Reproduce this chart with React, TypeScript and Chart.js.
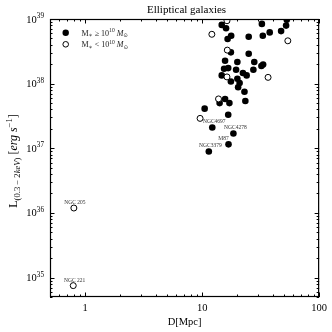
import React, { useEffect, useRef } from 'react';
import { Chart, registerables } from 'chart.js';

Chart.register(...registerables);

const SERIF = '"Liberation Serif", "DejaVu Serif", "Times New Roman", serif';

// Galaxies with M* >= 1e10 Msun (filled)
const filledD = [14.7, 16.0, 32.4, 52.2, 52.9, 17.7, 16.5, 25.0, 33.0, 37.8, 47.3, 17.6, 25.0, 15.7, 20.0, 27.9, 33.2, 32.1, 15.4, 16.7, 19.5, 27.4, 22.3, 24.0, 14.7, 17.6, 20.0, 20.9, 20.3, 23.0, 15.7, 14.1, 17.1, 23.4, 10.5, 16.7, 12.2, 18.5, 16.8, 11.4];
const filledL = [8.1e38, 7.2e38, 8.4e38, 7.9e38, 9.7e38, 5.5e38, 4.9e38, 5.3e38, 5.5e38, 6.2e38, 6.5e38, 3.05e38, 2.9e38, 2.26e38, 2.16e38, 2.16e38, 1.98e38, 1.87e38, 1.70e38, 1.74e38, 1.64e38, 1.64e38, 1.46e38, 1.34e38, 1.34e38, 1.08e38, 1.19e38, 1.02e38, 8.8e37, 7.5e37, 5.8e37, 5.0e37, 5.0e37, 5.4e37, 4.1e37, 3.3e37, 2.1e37, 1.69e37, 1.15e37, 8.9e36];

// Galaxies with M* < 1e10 Msun (open)
const openD = [16.3, 12.1, 54.0, 16.4, 16.3, 36.6, 13.8, 9.6, 0.80, 0.79];
const openL = [9.4e38, 5.8e38, 4.6e38, 3.3e38, 1.27e38, 1.25e38, 5.8e37, 2.9e37, 1.19e36, 7.5e34];

// Named galaxies
const labelNames = ['NGC4697', 'NGC4278', 'M87', 'NGC3379', 'NGC 205', 'NGC 221'];
const labelD = [12.2, 18.5, 16.8, 11.4, 0.80, 0.79];
const labelL = [2.1e37, 1.69e37, 1.15e37, 8.9e36, 1.19e36, 7.5e34];

const xTicks = [1, 10, 100];
const xTickLabels = ['1', '10', '100'];
const yTicks = [1e35, 1e36, 1e37, 1e38, 1e39];
const yTickExponents = ['35', '36', '37', '38', '39'];

const X_MIN = 0.5;
const X_MAX = 100;
const Y_MIN = 5e34;
const Y_MAX = 1e39;

const labelDx = [2, 2, -5, 1.5, 1, 1.5];

type Piece = { t: string; size: number; italic?: boolean; dy?: number };

function font(size: number, italic?: boolean) {
  return `${italic ? 'italic ' : ''}${size}px ${SERIF}`;
}

function drawPieces(ctx: CanvasRenderingContext2D, pieces: Piece[], x: number, y: number, align: 'left' | 'center' | 'right') {
  const widths = pieces.map((p) => {
    ctx.font = font(p.size, p.italic);
    return ctx.measureText(p.t).width;
  });
  const total = widths.reduce((a, b) => a + b, 0);
  let cx = align === 'left' ? x : align === 'center' ? x - total / 2 : x - total;
  ctx.textAlign = 'left';
  ctx.textBaseline = 'alphabetic';
  pieces.forEach((p, i) => {
    ctx.font = font(p.size, p.italic);
    ctx.fillText(p.t, cx, y + (p.dy || 0));
    cx += widths[i];
  });
}

const decoPlugin = {
  id: 'deco',
  afterDraw(chart: any) {
    const { ctx, chartArea: a, scales } = chart;
    const xs = scales.x;
    const ys = scales.y;
    ctx.save();
    ctx.fillStyle = '#000';
    ctx.strokeStyle = '#000';

    // frame
    ctx.lineWidth = 1.2;
    ctx.strokeRect(a.left + 0.5, a.top + 0.5, a.right - a.left - 1, a.bottom - a.top - 1);

    // ticks (inward, all sides)
    const tick = (x1: number, y1: number, x2: number, y2: number) => {
      ctx.beginPath();
      ctx.moveTo(x1, y1);
      ctx.lineTo(x2, y2);
      ctx.stroke();
    };
    const xMinor: number[] = [];
    [0.1, 1, 10].forEach((d) => {
      for (let m = 2; m <= 9; m++) {
        const v = m * d;
        if (v >= X_MIN && v <= X_MAX) xMinor.push(v);
      }
    });
    const yMinor: number[] = [];
    [1e34, 1e35, 1e36, 1e37, 1e38].forEach((d) => {
      for (let m = 2; m <= 9; m++) {
        const v = m * d;
        if (v >= Y_MIN && v <= Y_MAX) yMinor.push(v);
      }
    });
    ctx.lineWidth = 1;
    xTicks.forEach((v) => {
      const px = Math.round(xs.getPixelForValue(v)) + 0.5;
      tick(px, a.bottom, px, a.bottom - 4.5);
      tick(px, a.top, px, a.top + 4.5);
    });
    xMinor.forEach((v) => {
      const px = Math.round(xs.getPixelForValue(v)) + 0.5;
      tick(px, a.bottom, px, a.bottom - 2.5);
      tick(px, a.top, px, a.top + 2.5);
    });
    yTicks.forEach((v) => {
      const py = Math.round(ys.getPixelForValue(v)) + 0.5;
      tick(a.left, py, a.left + 4.5, py);
      tick(a.right, py, a.right - 4.5, py);
    });
    yMinor.forEach((v) => {
      const py = Math.round(ys.getPixelForValue(v)) + 0.5;
      tick(a.left, py, a.left + 2.5, py);
      tick(a.right, py, a.right - 2.5, py);
    });

    // y tick labels 10^n
    yTicks.forEach((v, i) => {
      const py = ys.getPixelForValue(v);
      drawPieces(ctx, [
        { t: '10', size: 10.5 },
        { t: yTickExponents[i], size: 7.2, dy: -4.4 },
      ], a.left - 6, py + 3.5, 'right');
    });

    // y axis title
    ctx.save();
    ctx.translate(13, (a.top + a.bottom) / 2 + 3);
    ctx.rotate(-Math.PI / 2);
    drawPieces(ctx, [
      { t: 'L', size: 12 },
      { t: '(0.3 \u2212 2', size: 8.6, dy: 2.8 },
      { t: 'keV', size: 8.6, italic: true, dy: 2.8 },
      { t: ')', size: 8.6, dy: 2.8 },
      { t: ' [', size: 12 },
      { t: 'erg s', size: 12, italic: true },
      { t: '\u22121', size: 8.6, dy: -5 },
      { t: ']', size: 12 },
    ], 0, 4, 'center');
    ctx.restore();

    // title
    ctx.font = font(11);
    ctx.textAlign = 'center';
    ctx.textBaseline = 'alphabetic';
    ctx.fillText('Elliptical galaxies', (a.left + a.right) / 2 + 2, 13);

    // legend
    const lx = 65.7;
    const ly1 = 32.7;
    const ly2 = 44.3;
    ctx.beginPath();
    ctx.arc(lx, ly1, 3.2, 0, Math.PI * 2);
    ctx.fill();
    ctx.beginPath();
    ctx.arc(lx, ly2, 2.8, 0, Math.PI * 2);
    ctx.fillStyle = '#fff';
    ctx.fill();
    ctx.lineWidth = 1;
    ctx.stroke();
    const legendText = (rel: string, y: number) => {
      drawPieces(ctx, [
        { t: 'M', size: 8 },
        { t: '\u2217', size: 6, dy: 1.5 },
        { t: ' ' + rel + ' 10', size: 8 },
        { t: '10', size: 5.6, dy: -3.2 },
        { t: ' M', size: 8, italic: true },
        { t: '\u2299', size: 5.6, dy: 1.5 },
      ], 81.5, y + 2.8, 'left');
    };
    ctx.fillStyle = '#222';
    legendText('\u2265', ly1);
    legendText('<', ly2);

    // annotations
    ctx.fillStyle = '#333';
    labelNames.forEach((name, i) => {
      const px = xs.getPixelForValue(labelD[i]) + labelDx[i];
      const py = ys.getPixelForValue(labelL[i]) - 5.5;
      ctx.font = font(5.5);
      ctx.textAlign = 'center';
      ctx.textBaseline = 'middle';
      ctx.fillText(name, px, py);
    });

    ctx.restore();
  },
};

export default function App() {
  const ref = useRef<HTMLCanvasElement>(null);
  useEffect(() => {
    document.body.style.margin = '0';
    const canvas = ref.current!;
    const chart = new Chart(canvas, {
      type: 'scatter',
      data: {
        datasets: [
          {
            label: 'M* < 1e10',
            data: openD.map((d, i) => ({ x: d, y: openL[i] })),
            pointRadius: 3,
            pointBackgroundColor: '#fff',
            pointBorderColor: '#000',
            pointBorderWidth: 1,
          },
          {
            label: 'M* >= 1e10',
            data: filledD.map((d, i) => ({ x: d, y: filledL[i] })),
            pointRadius: 3.3,
            pointBackgroundColor: '#000',
            pointBorderColor: '#000',
            pointBorderWidth: 0,
          },
        ],
      },
      options: {
        responsive: false,
        animation: false,
        layout: { padding: { top: 19, right: 12, left: 0, bottom: 0 } },
        plugins: {
          legend: { display: false },
          title: { display: false },
          tooltip: { enabled: false },
        },
        scales: {
          x: {
            type: 'logarithmic',
            min: X_MIN,
            max: X_MAX,
            position: 'bottom',
            grid: { display: false, drawTicks: false },
            border: { display: false },
            ticks: {
              autoSkip: false,
              maxRotation: 0,
              padding: 5,
              color: '#000',
              font: { family: SERIF, size: 10.5 },
              callback: (v: any) => {
                const idx = xTicks.indexOf(Number(v));
                return idx >= 0 ? xTickLabels[idx] : '';
              },
            },
            afterBuildTicks: (s: any) => {
              s.ticks = xTicks.map((v) => ({ value: v }));
            },
            afterFit: (s: any) => {
              s.height = 35;
            },
            title: {
              display: true,
              text: 'D[Mpc]',
              color: '#000',
              font: { family: SERIF, size: 10.5 },
              padding: { top: 0, bottom: 3 },
            },
          },
          y: {
            type: 'logarithmic',
            min: Y_MIN,
            max: Y_MAX,
            grid: { display: false, drawTicks: false },
            border: { display: false },
            ticks: { display: false },
            afterBuildTicks: (s: any) => {
              s.ticks = yTicks.map((v) => ({ value: v }));
            },
            afterFit: (s: any) => {
              s.width = 50;
            },
          },
        },
      } as any,
      plugins: [decoPlugin],
    });
    return () => chart.destroy();
  }, []);
  return (
    <div style={{ width: 332, height: 332 }}>
      <canvas ref={ref} width={332} height={332} style={{ display: 'block', width: 332, height: 332 }} />
    </div>
  );
}
